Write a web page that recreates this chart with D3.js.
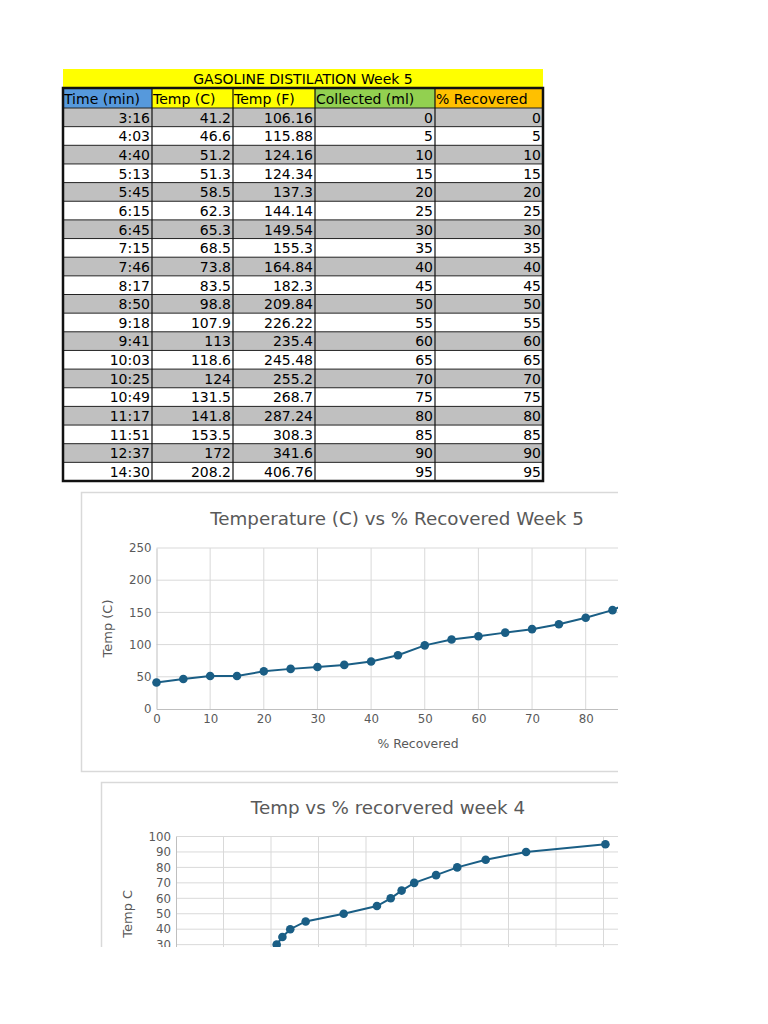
<!DOCTYPE html>
<html>
<head>
<meta charset="utf-8">
<script src="https://cdn.jsdelivr.net/npm/d3@7"></script>
<style>
  body { margin: 0; background: #fff; }
  svg { display: block; font-family: "DejaVu Sans", sans-serif; }
</style>
</head>
<body>
<div id="page"></div>
<script>
// table data
const tableTitle = "GASOLINE DISTILATION Week 5";
const headers = ["Time (min)", "Temp (C)", "Temp (F)", "Collected (ml)", "% Recovered"];
const headerColors = ["#5699dc", "#ffff00", "#ffff00", "#92d050", "#ffc000"];
const times = ["3:16", "4:03", "4:40", "5:13", "5:45", "6:15", "6:45", "7:15", "7:46", "8:17",
    "8:50", "9:18", "9:41", "10:03", "10:25", "10:49", "11:17", "11:51", "12:37", "14:30"];
const tempC = [41.2, 46.6, 51.2, 51.3, 58.5, 62.3, 65.3, 68.5, 73.8, 83.5,
    98.8, 107.9, 113, 118.6, 124, 131.5, 141.8, 153.5, 172, 208.2];
const tempF = [106.16, 115.88, 124.16, 124.34, 137.3, 144.14, 149.54, 155.3, 164.84, 182.3,
    209.84, 226.22, 235.4, 245.48, 255.2, 268.7, 287.24, 308.3, 341.6, 406.76];
const collected = [0, 5, 10, 15, 20, 25, 30, 35, 40, 45, 50, 55, 60, 65, 70, 75, 80, 85, 90, 95];
const recovered = [0, 5, 10, 15, 20, 25, 30, 35, 40, 45, 50, 55, 60, 65, 70, 75, 80, 85, 90, 95];

// week 4 chart (only the visible upper part of the chart)
const wk4Temp = [42.4, 44.8, 48.1, 54.6, 70.6, 84.6, 90.4, 95, 100.3, 109.5, 118.4, 130.4, 147.4, 180.8];
const wk4Value = [30, 35, 40, 45, 50, 55, 60, 65, 70, 75, 80, 85, 90, 95];

const W = 768, H = 1024;
const lineColor = "#1a5e85";
const gridColor = "#d9d9d9";
const textGray = "#595959";

const svg = d3.select("#page").append("svg")
    .attr("width", W)
    .attr("height", H);

// ---------- table ----------
const colEdges = [63, 152, 233, 315, 435, 543];
const titleTop = 69, headTop = 88, rowTop = 108, rowH = 18.65;
const rows = times.map((t, i) => [t, tempC[i], tempF[i], collected[i], recovered[i]]);

const table = svg.append("g").attr("class", "table");

table.append("rect")
    .attr("x", colEdges[0]).attr("y", titleTop)
    .attr("width", colEdges[5] - colEdges[0]).attr("height", headTop - titleTop)
    .attr("fill", "#ffff00");
table.append("text")
    .attr("x", (colEdges[0] + colEdges[5]) / 2).attr("y", headTop - 4)
    .attr("text-anchor", "middle").attr("font-size", 14)
    .text(tableTitle);

headers.forEach((h, j) => {
    table.append("rect")
        .attr("x", colEdges[j]).attr("y", headTop)
        .attr("width", colEdges[j + 1] - colEdges[j]).attr("height", rowTop - headTop)
        .attr("fill", headerColors[j]);
    table.append("text")
        .attr("x", colEdges[j] + 1).attr("y", rowTop - 4)
        .attr("font-size", 14)
        .text(h);
});

rows.forEach((r, i) => {
    let y0 = rowTop + i * rowH;
    table.append("rect")
        .attr("x", colEdges[0]).attr("y", y0)
        .attr("width", colEdges[5] - colEdges[0]).attr("height", rowH)
        .attr("fill", i % 2 === 0 ? "#c0c0c0" : "#ffffff");
    r.forEach((v, j) => {
        table.append("text")
            .attr("x", colEdges[j + 1] - 2).attr("y", y0 + rowH - 4)
            .attr("text-anchor", "end").attr("font-size", 14)
            .text(v);
    });
    table.append("line")
        .attr("x1", colEdges[0]).attr("x2", colEdges[5])
        .attr("y1", y0).attr("y2", y0)
        .attr("stroke", "#222").attr("stroke-width", 1);
});

const tableBottom = rowTop + rows.length * rowH;
colEdges.slice(1, 5).forEach(x => {
    table.append("line")
        .attr("x1", x).attr("x2", x)
        .attr("y1", headTop).attr("y2", tableBottom)
        .attr("stroke", "#111").attr("stroke-width", 1.2);
});
table.append("rect")
    .attr("x", colEdges[0]).attr("y", headTop)
    .attr("width", colEdges[5] - colEdges[0]).attr("height", tableBottom - headTop)
    .attr("fill", "none").attr("stroke", "#111").attr("stroke-width", 2.5);

// ---------- charts (page is cut on the right and bottom) ----------
svg.append("clipPath").attr("id", "pageClip")
    .append("rect").attr("x", 0).attr("y", 0).attr("width", 618).attr("height", 947);

const charts = svg.append("g").attr("clip-path", "url(#pageClip)");

function drawChart(opt) {
    const g = charts.append("g");
    g.append("rect")
        .attr("x", opt.box[0] + 0.5).attr("y", opt.box[1] + 0.5)
        .attr("width", opt.box[2]).attr("height", opt.box[3])
        .attr("fill", "#fff").attr("stroke", gridColor).attr("stroke-width", 1.5);

    g.append("text")
        .attr("x", opt.titleX).attr("y", opt.titleY)
        .attr("text-anchor", "middle").attr("font-size", 18.3)
        .attr("fill", textGray)
        .text(opt.title);

    const x = d3.scaleLinear().domain(opt.xDomain).range(opt.xRange);
    const y = d3.scaleLinear().domain(opt.yDomain).range(opt.yRange);

    // gridlines
    g.append("g")
        .selectAll("line.vg")
        .data(x.ticks(opt.xTicks).slice(1))
        .join("line")
        .attr("x1", d => x(d)).attr("x2", d => x(d))
        .attr("y1", opt.yRange[1]).attr("y2", opt.yRange[0])
        .attr("stroke", gridColor);
    g.append("g")
        .selectAll("line.hg")
        .data(y.ticks(opt.yTicks).slice(1))
        .join("line")
        .attr("x1", opt.xRange[0]).attr("x2", opt.xRange[1])
        .attr("y1", d => y(d)).attr("y2", d => y(d))
        .attr("stroke", gridColor);

    const xAxis = g.append("g")
        .attr("transform", "translate(0," + opt.yRange[0] + ")")
        .call(d3.axisBottom(x).ticks(opt.xTicks).tickSize(0).tickPadding(6));
    const yAxis = g.append("g")
        .attr("transform", "translate(" + opt.xRange[0] + ",0)")
        .call(d3.axisLeft(y).ticks(opt.yTicks).tickSize(0).tickPadding(5));
    [xAxis, yAxis].forEach(a => {
        a.select(".domain").attr("stroke", "#bfbfbf");
        a.selectAll("text")
            .attr("fill", textGray)
            .attr("font-size", 11.8)
            .attr("font-family", "DejaVu Sans, sans-serif");
    });

    if (opt.xLabel) {
        g.append("text")
            .attr("x", opt.xLabelX).attr("y", opt.yRange[0] + 39)
            .attr("text-anchor", "middle").attr("font-size", 12.4)
            .attr("fill", textGray)
            .text(opt.xLabel);
    }
    g.append("text")
        .attr("transform", "translate(" + opt.yLabelX + "," + ((opt.yRange[0] + opt.yRange[1]) / 2) + ") rotate(-90)")
        .attr("text-anchor", "middle").attr("font-size", 13)
        .attr("fill", textGray)
        .text(opt.yLabel);

    const pts = opt.xs.map((v, i) => [v, opt.ys[i]]);
    g.append("path")
        .datum(pts)
        .attr("fill", "none")
        .attr("stroke", lineColor)
        .attr("stroke-width", 2)
        .attr("d", d3.line().x(d => x(d[0])).y(d => y(d[1])));
    g.selectAll("circle.pt")
        .data(pts)
        .join("circle")
        .attr("cx", d => x(d[0])).attr("cy", d => y(d[1]))
        .attr("r", 4.3)
        .attr("fill", lineColor);
}

drawChart({
    box: [81, 492, 640, 279],
    title: "Temperature (C) vs % Recovered Week 5",
    titleX: 397, titleY: 525,
    xDomain: [0, 100], xRange: [156.5, 693], xTicks: 10,
    yDomain: [0, 250], yRange: [709, 548], yTicks: 5,
    xLabel: "% Recovered", xLabelX: 418, yLabel: "Temp (C)", yLabelX: 112,
    xs: recovered, ys: tempC
});

drawChart({
    box: [101, 782, 620, 300],
    title: "Temp vs % recorvered week 4",
    titleX: 388, titleY: 814,
    xDomain: [0, 200], xRange: [176, 651], xTicks: 10,
    yDomain: [0, 100], yRange: [991, 836.5], yTicks: 10,
    xLabel: null, yLabel: "Temp C", yLabelX: 132,
    xs: wk4Temp, ys: wk4Value
});
</script>
</body>
</html>
